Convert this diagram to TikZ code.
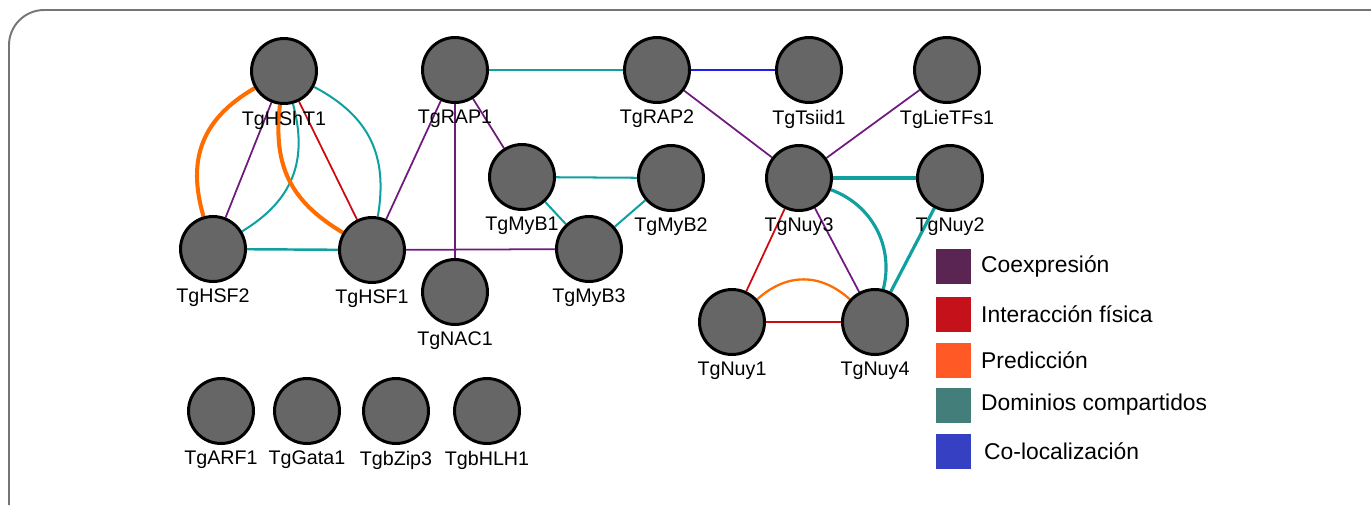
\documentclass[tikz,border=0pt]{standalone}
\usepackage{fontspec}
\setmainfont{Liberation Sans}
\usetikzlibrary{positioning}
\usetikzlibrary{backgrounds}
\definecolor{genegray}{HTML}{666666}
\definecolor{framegray}{HTML}{757575}
\definecolor{coexcol}{HTML}{701A80}
\definecolor{physcol}{HTML}{CC0A10}
\definecolor{predcol}{HTML}{FF6D00}
\definecolor{domcol}{HTML}{10A0A0}
\definecolor{coloccol}{HTML}{1E1EF0}
\definecolor{legcoex}{HTML}{5A2552}
\definecolor{legphys}{HTML}{C4111A}
\definecolor{legpred}{HTML}{FF5A26}
\definecolor{legdom}{HTML}{437E7A}
\definecolor{legcoloc}{HTML}{3540C2}
\newcommand{\genefont}{\fontsize{11.2pt}{13pt}\selectfont}
\newcommand{\legfont}{\fontsize{13pt}{15pt}\selectfont}

\tikzset{
  gene/.style={circle, draw=black, line width=1.7pt, fill=genegray,
    minimum size=1.3cm, inner sep=0pt},
  genelab/.style={font=\genefont, label distance=0pt},
  coex/.style={draw=coexcol, line width=1pt},
  phys/.style={draw=physcol, line width=1pt},
  pred/.style={draw=predcol, line width=2.3pt},
  dom/.style={draw=domcol, line width=1.15pt},
  domthick/.style={draw=domcol, line width=1.8pt},
  coloc/.style={draw=coloccol, line width=1pt},
  legbox/.style={rectangle, minimum size=0.7cm, inner sep=0pt},
  legtext/.style={font=\legfont, inner sep=0pt, anchor=west}
}

\begin{document}
\begin{tikzpicture}[x=0.02cm, y=-0.02cm]
      \useasboundingbox (0,0) rectangle (1371,505);
      \draw [framegray, line width=1.1pt, rounded corners=20]
        (9,505) -- (9,10) -- (1371,10);

      % connected genes
      \node at (284,71) [gene, name=hsht1, label={[genelab]below:TgHShT1}] {};
      \node at (213,249) [gene, name=hsf2, label={[genelab]below:TgHSF2}] {};
      \node at (372,250) [gene, name=hsf1, label={[genelab]below:TgHSF1}] {};
      \node at (455,70) [gene, name=rap1, label={[genelab]below:TgRAP1}] {};
      \node at (455,292) [gene, name=nac1, label={[genelab]below:TgNAC1}] {};
      \node at (522,177) [gene, name=myb1, label={[genelab]below:TgMyB1}] {};
      \node at (671,178) [gene, name=myb2, label={[genelab]below:TgMyB2}] {};
      \node at (589,249) [gene, name=myb3, label={[genelab]below:TgMyB3}] {};
      \node at (657,70) [gene, name=rap2, label={[genelab]below:TgRAP2}] {};
      \node at (809,70) [gene, name=tsiid1, label={[genelab]below:TgTsiid1}] {};
      \node at (947,70) [gene, name=lietfs1, label={[genelab]below:TgLieTFs1}] {};
      \node at (799,178) [gene, name=nuy3, label={[genelab]below:TgNuy3}] {};
      \node at (950,178) [gene, name=nuy2, label={[genelab]below:TgNuy2}] {};
      \node at (732,322) [gene, name=nuy1, label={[genelab]below:TgNuy1}] {};
      \node at (875,322) [gene, name=nuy4, label={[genelab]below:TgNuy4}] {};

      % genes with no link
      \node at (221,411) [gene, name=arf1, label={[genelab]below:TgARF1}] {};
      \node at (307,411) [gene, name=gata1, label={[genelab]below:TgGata1}] {};
      \node at (396,411) [gene, name=bzip3, label={[genelab]below:TgbZip3}] {};
      \node at (487,411) [gene, name=bhlh1, label={[genelab]below:TgbHLH1}] {};

      \begin{pgfonlayer}{background}
      \draw [coex] (hsht1) -- (hsf2);
      \draw [pred] (hsht1) to[bend right=38, looseness=1.12] (hsf2);
      \draw [dom] (hsht1) to[bend left=37, looseness=1.1] (hsf2);
      \draw [pred] (hsht1) to[bend right=33, looseness=1.1] (hsf1);
      \draw [phys] (hsht1) -- (hsf1);
      \draw [dom] (hsht1) to[bend left=36, looseness=1.1] (hsf1);
      \draw [dom, line width=1.4pt] (hsf2) -- (hsf1);
      \draw [coex] (hsf1) -- (rap1);
      \draw [coex] (hsf1) -- (myb3);
      \draw [coex] (rap1) -- (nac1);
      \draw [coex] (rap1) -- (myb1);
      \draw [dom] (rap1) -- (rap2);
      \draw [dom] (myb1) -- (myb2);
      \draw [dom] (myb1) -- (myb3);
      \draw [dom] (myb2) -- (myb3);
      \draw [coloc] (rap2) -- (tsiid1);
      \draw [coex] (rap2) -- (nuy3);
      \draw [coex] (lietfs1) -- (nuy3);
      \draw [domthick] (nuy3) -- (nuy2);
      \draw [domthick] (nuy3) to[bend left=42] (nuy4);
      \draw [coex] (nuy3) -- (nuy4);
      \draw [phys] (nuy3) -- (nuy1);
      \draw [domthick] (nuy2) -- (nuy4);
      \draw [phys] (nuy1) -- (nuy4);
      \draw [pred, line width=1.3pt] (nuy1) to[bend left=42, looseness=1.1] (nuy4);
      \end{pgfonlayer}

      % legend
      \node at (953,266) [legbox, fill=legcoex, name=lcoex] {};
      \node at (953,314) [legbox, fill=legphys, name=lphys] {};
      \node at (953,360) [legbox, fill=legpred, name=lpred] {};
      \node at (953,405) [legbox, fill=legdom, name=ldom] {};
      \node at (953,451) [legbox, fill=legcoloc, name=lcoloc] {};
      \node [legtext, right=0.2cm of lcoex] (tcoex) {Coexpresión};
      \node [legtext, right=0.2cm of lphys] (tphys) {Interacción física};
      \node [legtext, right=0.2cm of lpred] (tpred) {Predicción};
      \node [legtext, right=0.2cm of ldom] (tdom) {Dominios compartidos};
      \node [legtext, right=0.26cm of lcoloc] (tcoloc) {Co-localización};
    \end{tikzpicture}
\end{document}
